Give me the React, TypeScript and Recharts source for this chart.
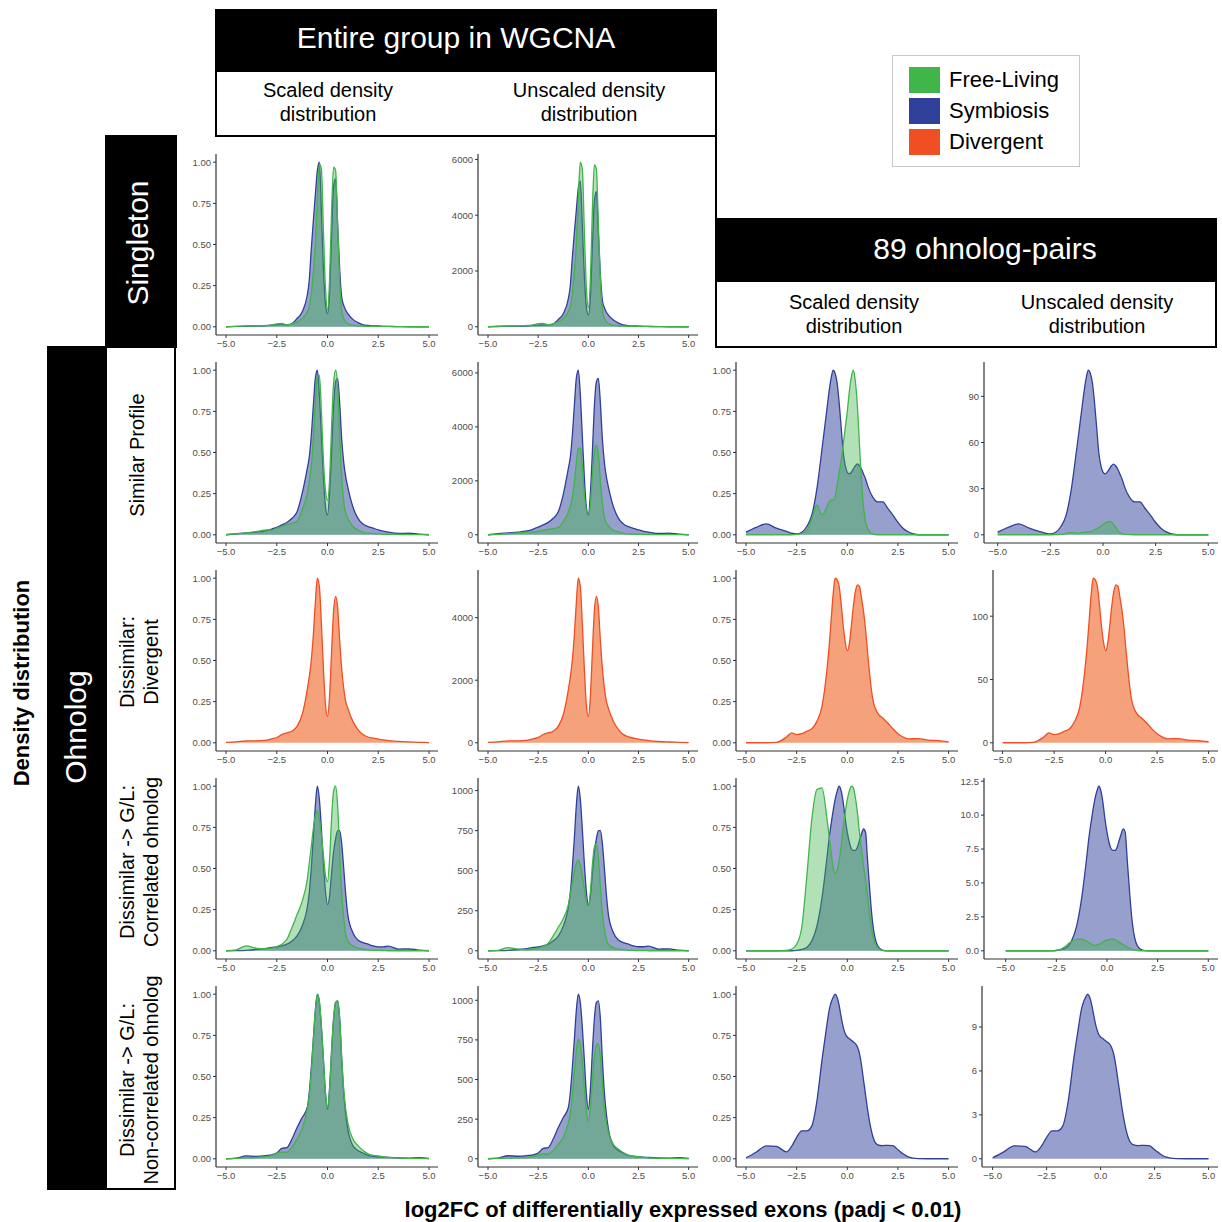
import React from 'react'
import { AreaChart, Area, XAxis, YAxis } from 'recharts'

const FONT = '"Liberation Sans", Arial, Helvetica, sans-serif'
const GREEN = '#3fb54a'
const BLUE = '#30409a'
const ORANGE = '#f04e23'
const ORANGE_FILL = '#f5a27c'

const xGrid = [-5, -4.5, -4, -3.5, -3, -2.75, -2.5, -2.25, -2, -1.75, -1.5, -1.25, -1, -0.9, -0.8, -0.7, -0.6, -0.5, -0.4, -0.3, -0.2, -0.1, 0, 0.1, 0.2, 0.3, 0.4, 0.5, 0.6, 0.7, 0.8, 0.9, 1, 1.25, 1.5, 1.75, 2, 2.25, 2.5, 2.75, 3, 3.5, 4, 4.5, 5]

const xTicks = [-5, -2.5, 0, 2.5, 5]
const xTickLabels = ['\u22125.0', '\u22122.5', '0.0', '2.5', '5.0']

const scaledTicks = [0, 0.25, 0.5, 0.75, 1]
const scaledLabels = ['0.00', '0.25', '0.50', '0.75', '1.00']
const bigCountTicks = [0, 2000, 4000, 6000]
const bigCountLabels = ['0', '2000', '4000', '6000']
const midCountTicks = [0, 250, 500, 750, 1000]
const midCountLabels = ['0', '250', '500', '750', '1000']
const ohnoSimilarTicks = [0, 30, 60, 90]
const ohnoSimilarLabels = ['0', '30', '60', '90']
const ohnoDivergentTicks = [0, 50, 100]
const ohnoDivergentLabels = ['0', '50', '100']
const ohnoCorrTicks = [0, 2.5, 5, 7.5, 10, 12.5]
const ohnoCorrLabels = ['0.0', '2.5', '5.0', '7.5', '10.0', '12.5']
const ohnoNonCorrTicks = [0, 3, 6, 9]
const ohnoNonCorrLabels = ['0', '3', '6', '9']

// ---- Singleton (entire group) ----
const singletonScaledSym = [0, 0.002, 0.004, 0.005, 0.007, 0.01, 0.012, 0.014, 0.012, 0.02, 0.05, 0.09, 0.19, 0.28, 0.47, 0.64, 0.8, 0.95, 1.0, 0.7, 0.35, 0.14, 0.08, 0.2, 0.55, 0.85, 0.9, 0.62, 0.35, 0.18, 0.13, 0.1, 0.08, 0.045, 0.025, 0.012, 0.008, 0.006, 0.005, 0.003, 0.002, 0.001, 0, 0, 0]
const singletonScaledFree = [0, 0.003, 0.005, 0.006, 0.008, 0.012, 0.018, 0.02, 0.012, 0.018, 0.03, 0.05, 0.09, 0.12, 0.2, 0.33, 0.5, 0.78, 0.99, 0.96, 0.58, 0.24, 0.1, 0.28, 0.7, 0.97, 0.95, 0.62, 0.28, 0.1, 0.05, 0.03, 0.02, 0.01, 0.006, 0.004, 0.003, 0.004, 0.003, 0.002, 0.002, 0.001, 0.001, 0, 0]
const singletonCountSym = [0, 10, 20, 25, 35, 50, 60, 70, 65, 100, 260, 470, 1000, 1460, 2460, 3350, 4180, 4970, 5230, 3660, 1830, 730, 420, 1050, 2900, 4500, 4850, 3300, 1850, 950, 680, 520, 420, 240, 130, 65, 40, 30, 25, 15, 10, 5, 0, 0, 0]
const singletonCountFree = [0, 18, 30, 36, 48, 70, 110, 120, 70, 110, 180, 300, 540, 710, 1190, 1960, 2980, 4640, 5900, 5650, 3450, 1430, 700, 1670, 4170, 5800, 5650, 3700, 1670, 600, 300, 180, 120, 60, 36, 24, 18, 24, 18, 12, 12, 6, 6, 0, 0]

// ---- Similar profile ----
const similarScaledSym = [0, 0.006, 0.012, 0.016, 0.025, 0.035, 0.045, 0.06, 0.075, 0.1, 0.14, 0.25, 0.4, 0.47, 0.6, 0.78, 0.95, 1.0, 0.85, 0.6, 0.35, 0.17, 0.12, 0.25, 0.5, 0.78, 0.93, 0.95, 0.8, 0.58, 0.44, 0.35, 0.29, 0.17, 0.1, 0.065, 0.05, 0.04, 0.03, 0.022, 0.016, 0.008, 0.01, 0.004, 0]
const similarScaledFree = [0, 0.005, 0.012, 0.02, 0.03, 0.028, 0.04, 0.05, 0.06, 0.07, 0.08, 0.15, 0.25, 0.32, 0.42, 0.58, 0.8, 0.96, 0.97, 0.75, 0.45, 0.27, 0.21, 0.33, 0.65, 0.92, 1.0, 0.9, 0.6, 0.35, 0.2, 0.13, 0.1, 0.05, 0.03, 0.015, 0.01, 0.008, 0.006, 0.004, 0.003, 0.002, 0.001, 0.001, 0]
const similarCountSym = [0, 40, 70, 100, 150, 210, 280, 370, 460, 610, 850, 1500, 2450, 2870, 3660, 4760, 5800, 6100, 5190, 3660, 2140, 1040, 740, 1530, 3050, 4760, 5670, 5800, 4880, 3540, 2680, 2140, 1770, 1040, 610, 400, 300, 240, 180, 130, 100, 50, 60, 25, 0]
const similarCountFree = [0, 17, 40, 66, 100, 100, 130, 165, 200, 230, 265, 500, 830, 1060, 1390, 1930, 2660, 3190, 3220, 2490, 1490, 900, 700, 1100, 2160, 3050, 3320, 2990, 1990, 1160, 660, 430, 330, 170, 100, 50, 33, 27, 20, 13, 10, 7, 3, 3, 0]
const ohnoSimilarScaledSym = [0.016, 0.045, 0.066, 0.04, 0.02, 0.01, 0.005, 0.015, 0.05, 0.12, 0.28, 0.52, 0.77, 0.87, 0.95, 1.0, 0.98, 0.92, 0.8, 0.65, 0.5, 0.42, 0.38, 0.37, 0.38, 0.4, 0.42, 0.43, 0.42, 0.4, 0.37, 0.34, 0.3, 0.23, 0.2, 0.2, 0.16, 0.12, 0.075, 0.04, 0.018, 0, 0, 0, 0]
const ohnoSimilarScaledFree = [0, 0, 0, 0, 0, 0, 0.002, 0.008, 0.025, 0.1, 0.18, 0.12, 0.17, 0.2, 0.21, 0.21, 0.23, 0.3, 0.38, 0.45, 0.55, 0.65, 0.75, 0.87, 0.96, 1.0, 0.93, 0.78, 0.55, 0.33, 0.17, 0.08, 0.04, 0.005, 0, 0, 0, 0, 0, 0, 0, 0, 0, 0, 0]
const ohnoSimilarCountSym = [1.7, 4.8, 7.1, 4.3, 2.1, 1.1, 0.5, 1.6, 5.4, 12.8, 30, 55.6, 82.4, 93.1, 101.7, 107, 104.9, 98.4, 85.6, 69.6, 53.5, 44.9, 40.7, 39.6, 40.7, 42.8, 44.9, 46, 44.9, 42.8, 39.6, 36.4, 32.1, 24.6, 21.4, 21.4, 17.1, 12.8, 8, 4.3, 1.9, 0, 0, 0, 0]
const ohnoSimilarCountFree = [0, 0, 0, 0, 0, 0, 0.02, 0.07, 0.2, 0.9, 1.6, 1.0, 1.5, 1.7, 1.8, 1.8, 2.0, 2.6, 3.3, 3.9, 4.8, 5.7, 6.5, 7.6, 8.4, 8.7, 8.1, 6.8, 4.8, 2.9, 1.5, 0.7, 0.35, 0.04, 0, 0, 0, 0, 0, 0, 0, 0, 0, 0, 0]

// ---- Dissimilar: divergent ----
const divergentScaled = [0.002, 0.006, 0.012, 0.012, 0.016, 0.024, 0.032, 0.05, 0.06, 0.07, 0.1, 0.17, 0.32, 0.4, 0.5, 0.65, 0.85, 1.0, 0.95, 0.72, 0.45, 0.23, 0.16, 0.28, 0.55, 0.8, 0.89, 0.82, 0.62, 0.45, 0.33, 0.25, 0.21, 0.13, 0.08, 0.05, 0.035, 0.028, 0.022, 0.018, 0.013, 0.008, 0.005, 0.003, 0.001]
const divergentCount = [10, 30, 60, 60, 85, 125, 170, 265, 315, 370, 525, 895, 1680, 2100, 2630, 3420, 4470, 5260, 5000, 3790, 2370, 1210, 840, 1470, 2890, 4210, 4680, 4320, 3260, 2370, 1740, 1320, 1100, 680, 420, 260, 185, 150, 115, 95, 70, 40, 25, 15, 5]
const ohnoDivergentScaled = [0, 0, 0, 0.002, 0.035, 0.06, 0.05, 0.055, 0.07, 0.085, 0.13, 0.22, 0.45, 0.58, 0.74, 0.9, 1.0, 0.99, 0.95, 0.84, 0.71, 0.61, 0.56, 0.6, 0.71, 0.83, 0.92, 0.96, 0.95, 0.88, 0.8, 0.69, 0.55, 0.27, 0.18, 0.15, 0.12, 0.085, 0.055, 0.035, 0.024, 0.025, 0.016, 0.013, 0.006]
const ohnoDivergentCount = [0, 0, 0, 0.3, 4.6, 7.8, 6.5, 7.2, 9.1, 11, 17, 28.6, 58.5, 75.4, 96.2, 117, 130, 128.7, 123.5, 109.2, 92.3, 79.3, 72.8, 78, 92.3, 107.9, 119.6, 124.8, 123.5, 114.4, 104, 89.7, 71.5, 35.1, 23.4, 19.5, 15.6, 11, 7.2, 4.6, 3.1, 3.3, 2.1, 1.7, 0.8]

// ---- Dissimilar -> G/L: correlated ----
const corrScaledSym = [0, 0.001, 0.003, 0.008, 0.015, 0.02, 0.024, 0.03, 0.04, 0.06, 0.09, 0.15, 0.26, 0.35, 0.5, 0.68, 0.88, 1.0, 0.92, 0.74, 0.53, 0.36, 0.28, 0.33, 0.47, 0.6, 0.68, 0.73, 0.73, 0.65, 0.5, 0.34, 0.22, 0.11, 0.065, 0.05, 0.04, 0.03, 0.024, 0.024, 0.028, 0.01, 0.012, 0.004, 0]
const corrScaledFree = [0, 0.005, 0.03, 0.015, 0.012, 0.016, 0.025, 0.04, 0.07, 0.14, 0.22, 0.3, 0.43, 0.53, 0.63, 0.74, 0.82, 0.85, 0.8, 0.7, 0.58, 0.46, 0.42, 0.55, 0.8, 0.97, 1.0, 0.88, 0.6, 0.35, 0.2, 0.1, 0.06, 0.03, 0.015, 0.01, 0.005, 0.003, 0.002, 0.001, 0, 0, 0, 0, 0]
const corrCountSym = [0, 1, 3, 8, 15, 21, 25, 31, 41, 62, 92, 154, 267, 360, 514, 698, 904, 1027, 945, 760, 544, 370, 288, 339, 483, 616, 698, 750, 750, 668, 514, 349, 226, 113, 67, 51, 41, 31, 25, 25, 29, 10, 12, 4, 0]
const corrCountFree = [0, 3, 20, 10, 8, 11, 17, 27, 47, 93, 147, 200, 287, 354, 420, 494, 547, 567, 534, 467, 387, 307, 280, 367, 534, 647, 667, 587, 400, 233, 133, 67, 40, 20, 10, 7, 3, 2, 1, 1, 0, 0, 0, 0, 0]
const ohnoCorrScaledSym = [0, 0, 0, 0, 0, 0, 0.002, 0.008, 0.02, 0.06, 0.15, 0.32, 0.57, 0.68, 0.77, 0.85, 0.92, 0.97, 1.0, 0.97, 0.9, 0.8, 0.72, 0.66, 0.62, 0.61, 0.61, 0.63, 0.67, 0.71, 0.74, 0.72, 0.55, 0.17, 0.03, 0.003, 0, 0, 0, 0, 0, 0, 0, 0, 0]
const ohnoCorrScaledFree = [0, 0, 0, 0, 0.002, 0.01, 0.04, 0.14, 0.45, 0.8, 0.98, 0.99, 0.8, 0.7, 0.6, 0.51, 0.47, 0.49, 0.55, 0.64, 0.75, 0.84, 0.92, 0.97, 1.0, 0.99, 0.93, 0.84, 0.72, 0.62, 0.52, 0.43, 0.33, 0.1, 0.02, 0.002, 0, 0, 0, 0, 0, 0, 0, 0, 0]
const ohnoCorrCountSym = [0, 0, 0, 0, 0, 0, 0.02, 0.1, 0.24, 0.73, 1.82, 3.88, 6.91, 8.25, 9.34, 10.31, 11.16, 11.77, 12.13, 11.77, 10.92, 9.7, 8.73, 8.0, 7.52, 7.4, 7.4, 7.64, 8.13, 8.61, 8.98, 8.73, 6.67, 2.06, 0.36, 0.04, 0, 0, 0, 0, 0, 0, 0, 0, 0]
const ohnoCorrCountFree = [0, 0, 0, 0, 0.002, 0.009, 0.034, 0.12, 0.39, 0.69, 0.84, 0.85, 0.69, 0.6, 0.52, 0.44, 0.4, 0.42, 0.47, 0.55, 0.65, 0.72, 0.79, 0.83, 0.86, 0.85, 0.8, 0.72, 0.62, 0.53, 0.45, 0.37, 0.28, 0.09, 0.02, 0.002, 0, 0, 0, 0, 0, 0, 0, 0, 0]

// ---- Dissimilar -> G/L: non-correlated ----
const nonCorrScaledSym = [0, 0.004, 0.018, 0.015, 0.02, 0.024, 0.035, 0.063, 0.068, 0.12, 0.19, 0.25, 0.31, 0.4, 0.55, 0.72, 0.9, 1.0, 0.95, 0.8, 0.6, 0.4, 0.3, 0.42, 0.65, 0.85, 0.95, 0.96, 0.85, 0.6, 0.4, 0.27, 0.18, 0.08, 0.05, 0.035, 0.02, 0.015, 0.012, 0.01, 0.008, 0.005, 0.004, 0.007, 0.003]
const nonCorrScaledFree = [0, 0.002, 0.005, 0.008, 0.014, 0.02, 0.035, 0.04, 0.04, 0.07, 0.12, 0.18, 0.3, 0.38, 0.52, 0.72, 0.9, 1.0, 0.96, 0.8, 0.6, 0.4, 0.31, 0.42, 0.65, 0.85, 0.95, 0.96, 0.85, 0.62, 0.42, 0.3, 0.22, 0.12, 0.08, 0.05, 0.03, 0.02, 0.018, 0.012, 0.008, 0.005, 0.003, 0.002, 0]
const nonCorrCountSym = [0, 4, 19, 16, 21, 25, 36, 65, 71, 125, 197, 260, 322, 415, 571, 747, 934, 1038, 986, 830, 623, 415, 311, 436, 675, 882, 986, 996, 882, 623, 415, 280, 187, 83, 52, 36, 21, 16, 12, 10, 8, 5, 4, 7, 3]
const nonCorrCountFree = [0, 2, 4, 6, 11, 15, 26, 30, 30, 53, 90, 136, 226, 287, 392, 543, 679, 754, 724, 603, 452, 302, 234, 317, 490, 641, 716, 726, 641, 467, 317, 226, 166, 90, 60, 38, 23, 15, 14, 9, 6, 4, 2, 2, 0]
const ohnoNonCorrScaled = [0.006, 0.04, 0.078, 0.075, 0.042, 0.075, 0.13, 0.17, 0.17, 0.2, 0.35, 0.6, 0.82, 0.9, 0.95, 0.98, 1.0, 0.98, 0.93, 0.86, 0.8, 0.76, 0.74, 0.73, 0.72, 0.71, 0.7, 0.68, 0.64, 0.57, 0.48, 0.39, 0.3, 0.14, 0.085, 0.08, 0.082, 0.08, 0.055, 0.03, 0.012, 0.001, 0, 0, 0]
const ohnoNonCorrCount = [0.07, 0.45, 0.88, 0.84, 0.47, 0.84, 1.46, 1.91, 1.91, 2.25, 3.93, 6.74, 9.22, 10.12, 10.68, 11.02, 11.24, 11.02, 10.45, 9.67, 8.99, 8.54, 8.32, 8.21, 8.09, 7.98, 7.87, 7.64, 7.19, 6.41, 5.4, 4.38, 3.37, 1.57, 0.96, 0.9, 0.92, 0.9, 0.62, 0.34, 0.13, 0.01, 0, 0, 0]

const legendNames = ['Free-Living', 'Symbiosis', 'Divergent']
const legendColors = [GREEN, BLUE, ORANGE]

type Series = { values: number[]; color: string; fill: string; opacity: number }
type Geo = { left: number; right: number; xm5: number; x5: number }
type Panel = {
  id: string
  geo: Geo
  row: number
  yTicks: number[]
  yLabels: string[]
  series: Series[]
}

const rowTop = [154, 362, 570, 778, 986]
const rowBottom = [335, 543, 751, 959, 1167]

const col1: Geo = { left: 215.7, right: 438.3, xm5: 225.7, x5: 428.7 }
const col2: Geo = { left: 478.3, right: 698.3, xm5: 488.3, x5: 689 }
const col3: Geo = { left: 735.7, right: 958.3, xm5: 745.7, x5: 948.3 }
const col4r2: Geo = { left: 984, right: 1218.3, xm5: 997.7, x5: 1208.3 }
const col4r3: Geo = { left: 992.7, right: 1218.3, xm5: 1002.3, x5: 1208.3 }
const col4r4: Geo = { left: 984, right: 1218.3, xm5: 1005.7, x5: 1208.3 }
const col4r5: Geo = { left: 981.7, right: 1218.3, xm5: 992.3, x5: 1208.3 }

const sym = (values: number[]): Series => ({ values, color: BLUE, fill: BLUE, opacity: 0.5 })
const free = (values: number[]): Series => ({ values, color: GREEN, fill: GREEN, opacity: 0.4 })
const div = (values: number[]): Series => ({ values, color: ORANGE, fill: ORANGE_FILL, opacity: 1 })

const panels: Panel[] = [
  { id: 'p1a', geo: col1, row: 0, yTicks: scaledTicks, yLabels: scaledLabels, series: [sym(singletonScaledSym), free(singletonScaledFree)] },
  { id: 'p1b', geo: col2, row: 0, yTicks: bigCountTicks, yLabels: bigCountLabels, series: [sym(singletonCountSym), free(singletonCountFree)] },

  { id: 'p2a', geo: col1, row: 1, yTicks: scaledTicks, yLabels: scaledLabels, series: [sym(similarScaledSym), free(similarScaledFree)] },
  { id: 'p2b', geo: col2, row: 1, yTicks: bigCountTicks, yLabels: bigCountLabels, series: [sym(similarCountSym), free(similarCountFree)] },
  { id: 'p2c', geo: col3, row: 1, yTicks: scaledTicks, yLabels: scaledLabels, series: [sym(ohnoSimilarScaledSym), free(ohnoSimilarScaledFree)] },
  { id: 'p2d', geo: col4r2, row: 1, yTicks: ohnoSimilarTicks, yLabels: ohnoSimilarLabels, series: [sym(ohnoSimilarCountSym), free(ohnoSimilarCountFree)] },

  { id: 'p3a', geo: col1, row: 2, yTicks: scaledTicks, yLabels: scaledLabels, series: [div(divergentScaled)] },
  { id: 'p3b', geo: col2, row: 2, yTicks: bigCountTicks.slice(0, 3), yLabels: bigCountLabels.slice(0, 3), series: [div(divergentCount)] },
  { id: 'p3c', geo: col3, row: 2, yTicks: scaledTicks, yLabels: scaledLabels, series: [div(ohnoDivergentScaled)] },
  { id: 'p3d', geo: col4r3, row: 2, yTicks: ohnoDivergentTicks, yLabels: ohnoDivergentLabels, series: [div(ohnoDivergentCount)] },

  { id: 'p4a', geo: col1, row: 3, yTicks: scaledTicks, yLabels: scaledLabels, series: [sym(corrScaledSym), free(corrScaledFree)] },
  { id: 'p4b', geo: col2, row: 3, yTicks: midCountTicks, yLabels: midCountLabels, series: [sym(corrCountSym), free(corrCountFree)] },
  { id: 'p4c', geo: col3, row: 3, yTicks: scaledTicks, yLabels: scaledLabels, series: [sym(ohnoCorrScaledSym), free(ohnoCorrScaledFree)] },
  { id: 'p4d', geo: col4r4, row: 3, yTicks: ohnoCorrTicks, yLabels: ohnoCorrLabels, series: [sym(ohnoCorrCountSym), free(ohnoCorrCountFree)] },

  { id: 'p5a', geo: col1, row: 4, yTicks: scaledTicks, yLabels: scaledLabels, series: [sym(nonCorrScaledSym), free(nonCorrScaledFree)] },
  { id: 'p5b', geo: col2, row: 4, yTicks: midCountTicks, yLabels: midCountLabels, series: [sym(nonCorrCountSym), free(nonCorrCountFree)] },
  { id: 'p5c', geo: col3, row: 4, yTicks: scaledTicks, yLabels: scaledLabels, series: [sym(ohnoNonCorrScaled)] },
  { id: 'p5d', geo: col4r5, row: 4, yTicks: ohnoNonCorrTicks, yLabels: ohnoNonCorrLabels, series: [sym(ohnoNonCorrCount)] },
]

const Y_AXIS_W = 40
const X_AXIS_H = 20
const TOP_PAD = 8
const tickStyle = { fontSize: 9.5, fill: '#4d4d4d', fontFamily: FONT }

function DensityPanel({ p }: { p: Panel }) {
  const { left, right, xm5, x5 } = p.geo
  const top = rowTop[p.row]
  const bottom = rowBottom[p.row]
  const plotW = right - left
  const plotH = bottom - top
  const pxPerUnit = (x5 - xm5) / 10
  const xDomain = [-5 - (xm5 - left) / pxPerUnit, 5 + (right - x5) / pxPerUnit]
  const ymax = Math.max(...p.series.flatMap((s) => s.values))
  const data = xGrid.map((x, i) => {
    const row: Record<string, number> = { x }
    p.series.forEach((s, j) => {
      row['s' + j] = s.values[i]
    })
    return row
  })

  return (
    <div style={{ position: 'absolute', left: left - Y_AXIS_W, top: top - TOP_PAD }}>
      <AreaChart
        width={Y_AXIS_W + plotW}
        height={plotH + X_AXIS_H + TOP_PAD}
        data={data}
        margin={{ top: TOP_PAD, right: 0, bottom: 0, left: 0 }}
      >
        <XAxis
          type="number"
          dataKey="x"
          domain={xDomain}
          allowDataOverflow
          ticks={xTicks}
          interval={0}
          tickFormatter={(v: number) => xTickLabels[xTicks.indexOf(v)] ?? String(v)}
          height={X_AXIS_H}
          tickSize={3}
          axisLine={{ stroke: '#333', strokeWidth: 1.2 }}
          tickLine={{ stroke: '#333' }}
          tick={tickStyle}
        />
        <YAxis
          type="number"
          domain={[-0.05 * ymax, 1.05 * ymax]}
          allowDataOverflow
          ticks={p.yTicks}
          interval={0}
          tickFormatter={(v: number) => p.yLabels[p.yTicks.indexOf(v)] ?? String(v)}
          width={Y_AXIS_W}
          tickSize={3}
          axisLine={{ stroke: '#333', strokeWidth: 1.2 }}
          tickLine={{ stroke: '#333' }}
          tick={tickStyle}
        />
        {p.series.map((s, j) => (
          <Area
            key={j}
            type="monotone"
            dataKey={'s' + j}
            stroke={s.color}
            strokeWidth={1.3}
            fill={s.fill}
            fillOpacity={s.opacity}
            baseValue={0}
            dot={false}
            activeDot={false}
            isAnimationActive={false}
          />
        ))}
      </AreaChart>
    </div>
  )
}

function Box({ x, y, w, h, bg, border }: { x: number; y: number; w: number; h: number; bg: string; border?: boolean }) {
  return (
    <div
      style={{
        position: 'absolute',
        left: x,
        top: y,
        width: w,
        height: h,
        background: bg,
        border: border ? '2px solid #000' : 'none',
        boxSizing: 'border-box',
      }}
    />
  )
}

function Label({
  x,
  y,
  size,
  color = '#000',
  bold = false,
  rotate = false,
  children,
}: {
  x: number
  y: number
  size: number
  color?: string
  bold?: boolean
  rotate?: boolean
  children: React.ReactNode
}) {
  return (
    <div
      style={{
        position: 'absolute',
        left: x,
        top: y,
        transform: `translate(-50%, -50%)${rotate ? ' rotate(-90deg)' : ''}`,
        whiteSpace: 'nowrap',
        textAlign: 'center',
        fontSize: size,
        lineHeight: 1.2,
        fontWeight: bold ? 700 : 400,
        color,
        fontFamily: FONT,
      }}
    >
      {children}
    </div>
  )
}

export default function App() {
  return (
    <div style={{ position: 'absolute', left: 0, top: 0, width: 1222, height: 1222, background: '#fff', fontFamily: FONT }}>
      {/* top header: entire group */}
      <Box x={215} y={9} w={502} h={62} bg="#000" />
      <Label x={456} y={38} size={30} color="#fff">Entire group in WGCNA</Label>
      <Box x={215} y={70} w={502} h={67} bg="#fff" border />
      <Label x={328} y={102} size={20}>Scaled density<br />distribution</Label>
      <Label x={589} y={102} size={20}>Unscaled density<br />distribution</Label>

      {/* singleton row: strip and right edge line */}
      <Box x={105} y={135} w={72} h={213} bg="#000" />
      <Label x={138} y={243} size={30} color="#fff" rotate>Singleton</Label>
      <Box x={715} y={135} w={2} h={85} bg="#000" />

      {/* 89 ohnolog-pairs header */}
      <Box x={715} y={218} w={502} h={63} bg="#000" />
      <Label x={985} y={249} size={30} color="#fff">89 ohnolog-pairs</Label>
      <Box x={715} y={280} w={502} h={68} bg="#fff" border />
      <Label x={854} y={314} size={20}>Scaled density<br />distribution</Label>
      <Label x={1097} y={314} size={20}>Unscaled density<br />distribution</Label>

      {/* ohnolog side strips */}
      <Box x={47} y={346} w={60} h={844} bg="#000" />
      <Label x={76} y={727} size={30} color="#fff" rotate>Ohnolog</Label>
      <Box x={105} y={346} w={71} h={844} bg="#fff" border />
      <Label x={137} y={455} size={20} rotate>Similar Profile</Label>
      <Label x={139} y={662} size={20} rotate>Dissimilar:<br />Divergent</Label>
      <Label x={139} y={862} size={20} rotate>Dissimilar -&gt; G/L:<br />Correlated ohnolog</Label>
      <Label x={139} y={1080} size={20} rotate>Dissimilar -&gt; G/L:<br />Non-correlated ohnolog</Label>

      <Label x={22} y={683} size={22} bold rotate>Density distribution</Label>
      <Label x={683} y={1210} size={22} bold>log2FC of differentially expressed exons (padj &lt; 0.01)</Label>

      {/* legend */}
      <div
        style={{
          position: 'absolute',
          left: 892,
          top: 55,
          width: 188,
          height: 112,
          border: '1.5px solid #c8c8c8',
          boxSizing: 'border-box',
        }}
      />
      {legendNames.map((name, i) => (
        <React.Fragment key={name}>
          <div
            style={{
              position: 'absolute',
              left: 909,
              top: 67 + i * 31,
              width: 31,
              height: 26,
              background: legendColors[i],
            }}
          />
          <div
            style={{
              position: 'absolute',
              left: 949,
              top: 80 + i * 31,
              transform: 'translateY(-50%)',
              fontSize: 22,
              fontFamily: FONT,
              whiteSpace: 'nowrap',
            }}
          >
            {name}
          </div>
        </React.Fragment>
      ))}

      {panels.map((p) => (
        <DensityPanel key={p.id} p={p} />
      ))}
    </div>
  )
}
